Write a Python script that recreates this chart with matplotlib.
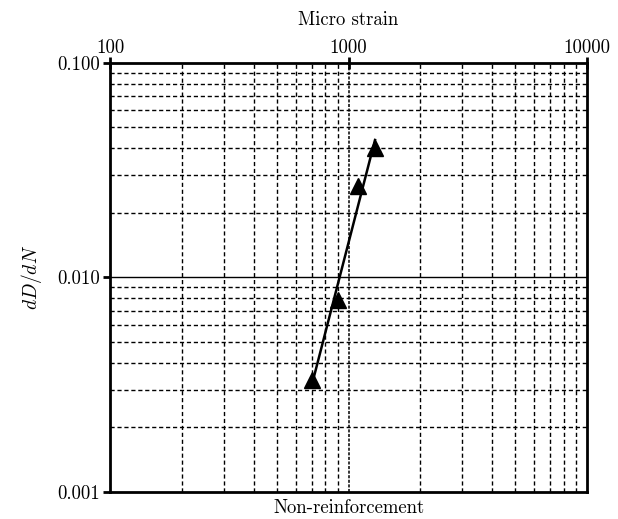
import numpy as np
import matplotlib
matplotlib.use("Agg")
import matplotlib.pyplot as plt
from matplotlib.ticker import LogLocator, FixedLocator, FixedFormatter, NullFormatter

plt.rcParams['font.family'] = ['cmr10', 'DejaVu Serif']
plt.rcParams['mathtext.fontset'] = 'cm'
plt.rcParams['axes.formatter.use_mathtext'] = True

# data
strain = [703, 903, 1096, 1291]
dDdN = [0.00333, 0.00785, 0.0267, 0.0402]

x_ticks = [100, 1000, 10000]
x_labels = ['100', '1000', '10000']
y_ticks = [0.001, 0.01, 0.1]
y_labels = ['0.001', '0.010', '0.100']

fig = plt.figure(figsize=(6.18, 5.19), dpi=100)
ax = fig.add_axes([0.178, 0.052, 0.772, 0.827])
ax.set_xscale('log')
ax.set_yscale('log')
ax.set_xlim(100, 10000)
ax.set_ylim(0.001, 0.1)

# grid: dashed minors, solid line at 0.010
ax.xaxis.set_minor_locator(LogLocator(base=10, subs=np.arange(2, 10)))
ax.yaxis.set_minor_locator(LogLocator(base=10, subs=np.arange(2, 10)))
ax.xaxis.set_minor_formatter(NullFormatter())
ax.yaxis.set_minor_formatter(NullFormatter())
ax.grid(which='minor', axis='both', color='black', linestyle=(0, (3, 2)), linewidth=1.0)
ax.axvline(1000, color='black', linestyle=(0, (2, 1)), linewidth=1.1)
ax.axhline(0.01, color='black', linestyle='-', linewidth=1.0)

# trend line (power fit) + markers
k, b = np.polyfit(np.log10(strain), np.log10(dDdN), 1)
xf = np.array([min(strain), max(strain)])
ax.plot(xf, 10 ** (k * np.log10(xf) + b), color='black', linewidth=1.8)
ax.plot(strain, dDdN, linestyle='none', marker='^', markersize=11, color='black')

ax.xaxis.set_major_locator(FixedLocator(x_ticks))
ax.xaxis.set_major_formatter(FixedFormatter(x_labels))
ax.yaxis.set_major_locator(FixedLocator(y_ticks))
ax.yaxis.set_major_formatter(FixedFormatter(y_labels))
ax.xaxis.tick_top()
ax.tick_params(axis='x', which='major', direction='inout', length=8, width=2, labelsize=13.5, pad=0)
ax.tick_params(axis='y', which='major', direction='out', length=5, width=2, labelsize=13.5, pad=2)
ax.tick_params(which='minor', length=0)

for s in ax.spines.values():
    s.set_linewidth(2)

ax.set_xlabel('Micro strain', fontsize=13.5, labelpad=10)
ax.xaxis.set_label_position('top')
ax.set_ylabel(r'$dD/dN$', fontsize=14, labelpad=10)
fig.text(0.564, 0.022, 'Non-reinforcement', ha='center', va='center', fontsize=13.5)

fig.savefig('out.png', dpi=100)
